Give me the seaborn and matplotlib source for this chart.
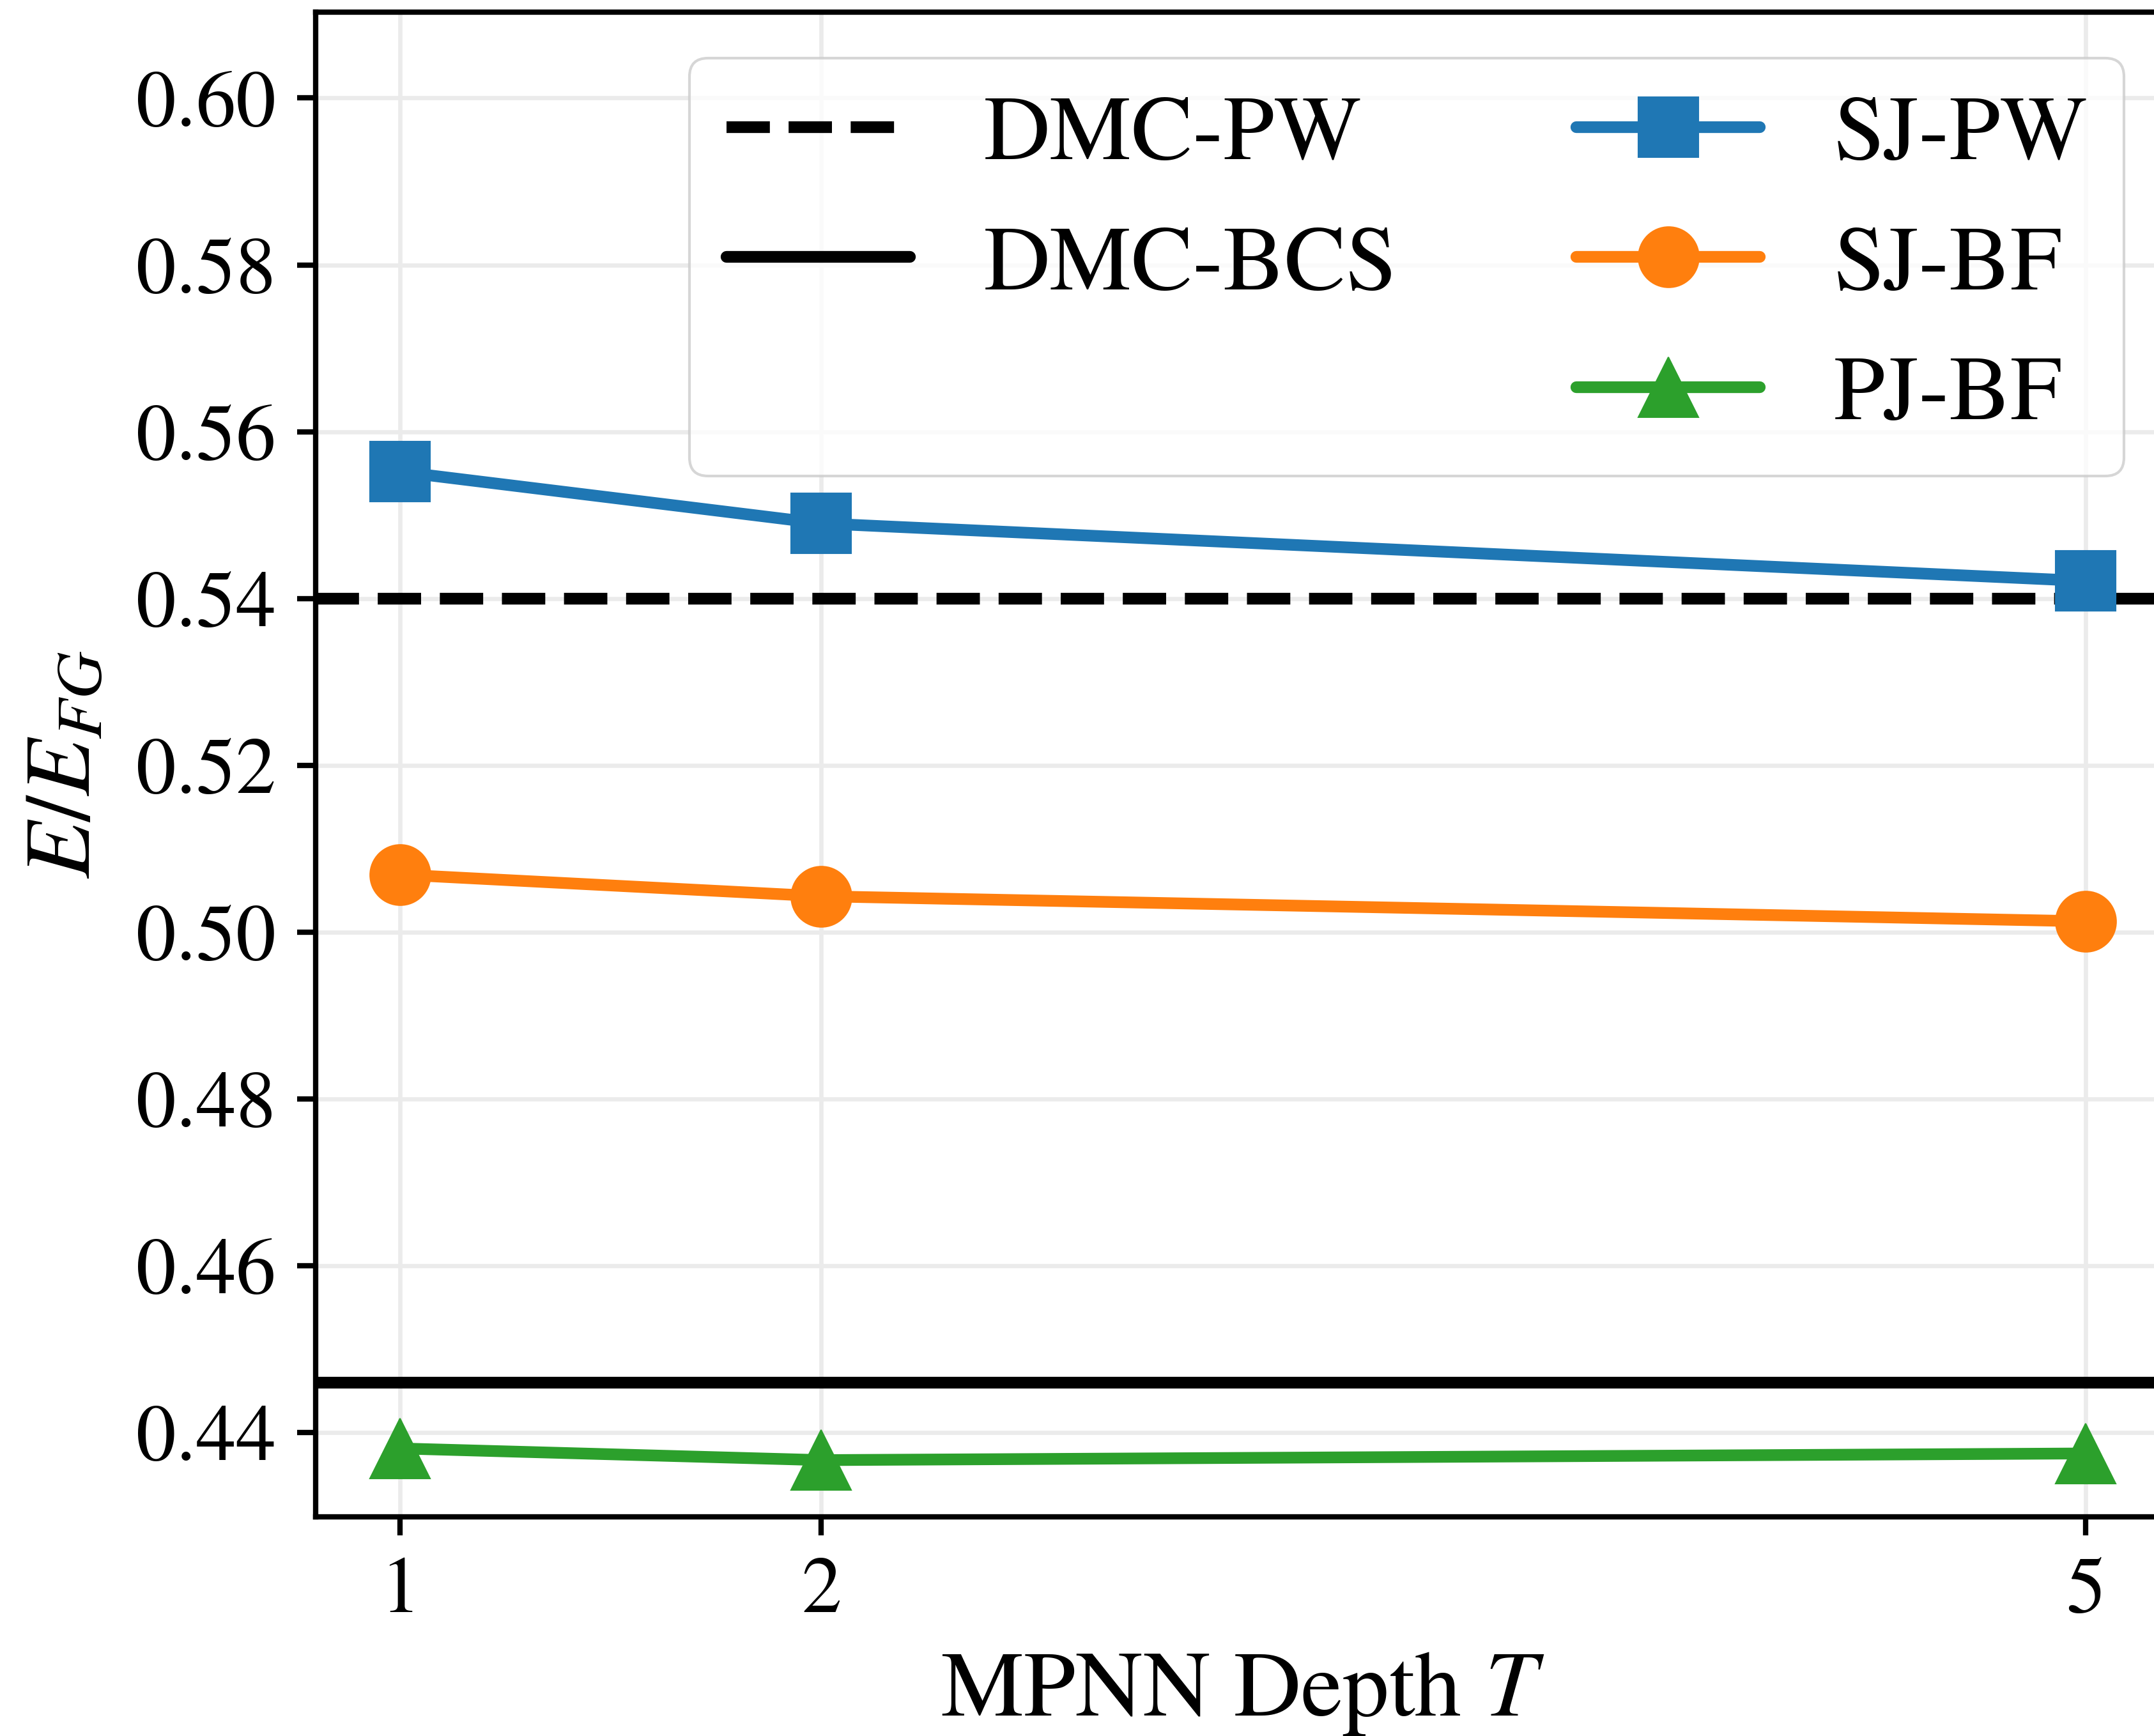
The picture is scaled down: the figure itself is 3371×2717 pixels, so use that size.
import matplotlib
matplotlib.use("Agg")
import matplotlib.pyplot as plt
from matplotlib.lines import Line2D
import seaborn as sns
import pandas as pd

# ---- data ----
depth = [1, 2, 5]
sj_pw = [0.5552, 0.5490, 0.5421]
sj_bf = [0.5069, 0.5043, 0.5013]
pj_bf = [0.4381, 0.4367, 0.4375]
dmc_pw = 0.540
dmc_bcs = 0.446
yticks = [0.44, 0.46, 0.48, 0.50, 0.52, 0.54, 0.56, 0.58, 0.60]
series_names = ["SJ-PW", "SJ-BF", "PJ-BF"]
series_colors = ["#1f77b4", "#ff7f0e", "#2ca02c"]
series_markers = ["s", "o", "^"]

sns.set_style("whitegrid")
plt.rcParams["font.family"] = ["STIXGeneral", "DejaVu Serif"]
plt.rcParams["mathtext.fontset"] = "stix"
plt.rcParams["text.color"] = "black"
plt.rcParams["axes.labelcolor"] = "black"
plt.rcParams["xtick.color"] = "black"
plt.rcParams["ytick.color"] = "black"

df = pd.concat([
    pd.DataFrame({"T": depth, "E": vals, "method": name})
    for name, vals in zip(series_names, [sj_pw, sj_bf, pj_bf])
])

fig = plt.figure(figsize=(3371 / 300, 2717 / 300), dpi=300)
ax = fig.add_axes([494 / 3371, 1 - 2374 / 2717, (3396 - 494) / 3371, (2374 - 19) / 2717])

lw = 4.4
ms = 22.7
ax.axhline(dmc_pw, color="black", ls="--", lw=lw, label="DMC-PW", zorder=2)
ax.axhline(dmc_bcs, color="black", ls="-", lw=lw, label="DMC-BCS", zorder=2)

for name, col, mk in zip(series_names, series_colors, series_markers):
    sub = df[df["method"] == name]
    sns.lineplot(data=sub, x="T", y="E", ax=ax, color=col, marker=mk,
                 markersize=ms, markeredgecolor=col, markeredgewidth=0.5,
                 lw=lw, label=name, zorder=3, legend=False)

ax.set_xlim(0.8, 5.2)
ax.set_ylim(0.4299, 0.6103)
ax.set_xticks(depth)
ax.set_xticklabels([str(d) for d in depth])
ax.set_yticks(yticks)
ax.set_yticklabels([f"{t:.2f}" for t in yticks])

ax.grid(True, color="#ebebeb", lw=1.6)
for s in ax.spines.values():
    s.set_edgecolor("black")
    s.set_linewidth(2.0)
ax.tick_params(axis="both", which="major", direction="out", length=7, width=2,
               color="black", labelcolor="black", labelsize=30, pad=8,
               left=True, bottom=True)

ax.set_xlabel("MPNN Depth $T$", fontsize=35, labelpad=8, color="black")
ax.set_ylabel("$E/E_{FG}$", fontsize=35, labelpad=10, color="black")

handles, labels = ax.get_legend_handles_labels()
hmap = dict(zip(labels, handles))
blank = Line2D([], [], color="none")
order_h = [hmap["DMC-PW"], hmap["DMC-BCS"], blank,
           hmap["SJ-PW"], hmap["SJ-BF"], hmap["PJ-BF"]]
order_l = ["DMC-PW", "DMC-BCS", "", "SJ-PW", "SJ-BF", "PJ-BF"]
leg = ax.legend(order_h, order_l, loc="upper right", ncol=2, fontsize=34.5,
                frameon=True, fancybox=True, framealpha=0.8, edgecolor="0.8",
                columnspacing=1.95)
leg.get_frame().set_linewidth(1.0)
for t in leg.get_texts():
    t.set_color("black")

fig.savefig("out.png", dpi=300)
